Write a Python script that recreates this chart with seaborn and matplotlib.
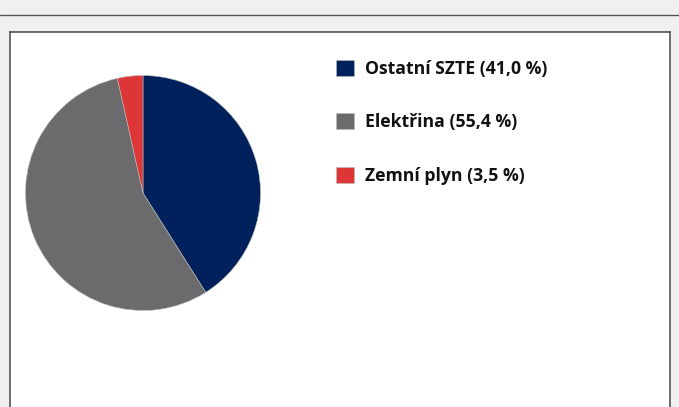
import numpy as np
import matplotlib
matplotlib.use("Agg")
from matplotlib import pyplot as plt
from matplotlib.lines import Line2D
import seaborn as sns

labels = ["Ostatní SZTE (41,0 %)", "Elektřina (55,4 %)", "Zemní plyn (3,5 %)"]
shares = [41.0, 55.4, 3.5]
colors = ["#00215C", "#6B6B6D", "#DC3636"]

sns.set_style("white")
plt.rcParams["font.family"] = ["Open Sans", "DejaVu Sans"]

W, H = 679, 407
fig = plt.figure(figsize=(W / 100, H / 100), dpi=100, facecolor="#f0f0f0")

# separator line under the (cut off) title
fig.add_artist(Line2D([0, 1], [1 - 15 / H, 1 - 15 / H], color="#555555", lw=1.0))

# white panel with border
panel = fig.add_axes([9.5 / W, -0.01, (669.5 - 9.5) / W, (H - 32) / H + 0.01])
panel.set_facecolor("white")
panel.set_xticks([])
panel.set_yticks([])
for side in ["left", "top", "right"]:
    panel.spines[side].set_color("#555555")
    panel.spines[side].set_linewidth(1.2)
panel.spines["bottom"].set_visible(False)

# pie
cx, cy, r = 143, 193, 117.5
ax = fig.add_axes([(cx - r) / W, (H - cy - r) / H, 2 * r / W, 2 * r / H])
wedges, _ = ax.pie(shares, colors=colors, startangle=90, counterclock=False,
                   wedgeprops=dict(linewidth=0.4, edgecolor="#bbbbbb"))
ax.set_xlim(-1, 1)
ax.set_ylim(-1, 1)
ax.axis("off")

leg = fig.legend(wedges, labels, loc="upper left",
                 bbox_to_anchor=(322 / W, 1 - 46 / H), frameon=False,
                 prop=dict(weight="bold", size=12.7),
                 handlelength=1.02, handleheight=1.02, handletextpad=0.62,
                 labelspacing=2.0, borderpad=0.3)
for t in leg.get_texts():
    t.set_color("#111111")

fig.savefig("out.png", dpi=100, facecolor=fig.get_facecolor())
